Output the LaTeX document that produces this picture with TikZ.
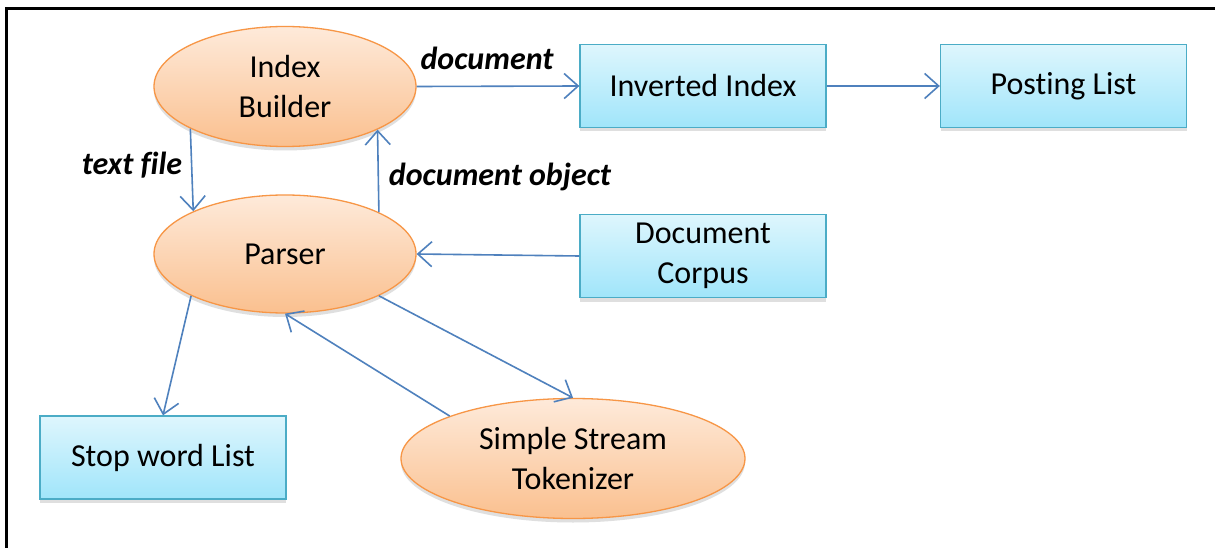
\documentclass[tikz,border=0pt]{standalone}
\usepackage{fontspec}
\setmainfont[RawFeature={-liga;-clig;-calt;-rlig}]{Carlito}
\usetikzlibrary{shapes.geometric,arrows.meta,shadows}
\definecolor{arrowblue}{RGB}{79,129,189}
\definecolor{orangeborder}{RGB}{247,150,70}
\definecolor{orangetop}{RGB}{254,234,218}
\definecolor{orangebot}{RGB}{250,192,143}
\definecolor{cyanborder}{RGB}{75,172,198}
\definecolor{cyantop}{RGB}{222,246,253}
\definecolor{cyanbot}{RGB}{160,229,250}
\tikzset{
  proc/.style={ellipse, draw=orangeborder, line width=1.3pt, top color=orangetop, bottom color=orangebot,
    inner sep=0pt, align=center, font=\fontsize{32}{40}\selectfont,
    drop shadow={opacity=0.25, shadow xshift=0pt, shadow yshift=-4pt}},
  store/.style={rectangle, draw=cyanborder, line width=1.3pt, top color=cyantop, bottom color=cyanbot,
    minimum width=246pt, minimum height=83pt, inner sep=0pt, align=center, font=\fontsize{32}{40}\selectfont,
    drop shadow={opacity=0.25, shadow xshift=0pt, shadow yshift=-4pt}},
  flow/.style={draw=arrowblue, line width=1.6pt, -{Straight Barb[length=14pt,width=25pt,line width=1.6pt]}},
  lbl/.style={font=\fontsize{32}{40}\selectfont\bfseries\itshape, inner sep=0pt}
}
\begin{document}
\begin{tikzpicture}[x=1pt,y=-1pt]
\useasboundingbox (0,0) rectangle (1215,548);
\clip (0,0) rectangle (1215,548);
\fill[white] (0,0) rectangle (1215,548);
\draw[line width=3pt, black] (6,560) -- (6,9) -- (1230,9);

\node[proc, minimum width=262pt, minimum height=120pt] (ib) at (285,86.5) {Index\\Builder};
\node[proc, minimum width=262pt, minimum height=118pt] (pa) at (285,254) {Parser};
\node[proc, minimum width=344pt, minimum height=120pt] (tk) at (573,458.5) {Simple Stream\\Tokenizer};

\node[store] (ii) at (703,86) {Inverted Index};
\node[store] (pl) at (1063.5,86) {Posting List};
\node[store] (dc) at (703,256) {Document\\Corpus};
\node[store] (sw) at (163,457.5) {Stop word List};

\node[lbl] (l1) at (487,58) {document};
\node[lbl] (l2) at (132,165) {text file};
\node[lbl] (l3) at (500,177) {document object};

\draw[flow] (ib.east) -- (ii.west);
\draw[flow] (ii.east) -- (pl.west);
\draw[flow] (ib.204.9) -- (pa.155.5);
\draw[flow] (pa.24) -- (ib.335.6);
\draw[flow] (dc.west) -- (pa.east);
\draw[flow] (pa.204.5) -- (sw.north);
\draw[flow] (pa.336) -- (tk.north);
\draw[flow] (tk.161.1) -- (pa.south);
\end{tikzpicture}
\end{document}
